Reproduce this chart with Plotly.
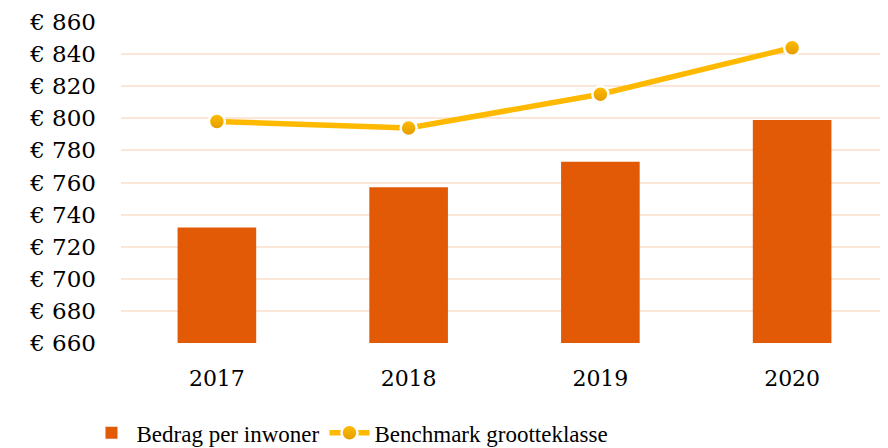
import plotly.graph_objects as go

years = ["2017", "2018", "2019", "2020"]
bedrag = [732, 757, 773, 799]
benchmark = [798, 794, 815, 844]
y_ticks = [660, 680, 700, 720, 740, 760, 780, 800, 820, 840, 860]
y_labels = ["€ " + str(v) for v in y_ticks]

num_font = "DejaVu Serif"
leg_font = "Liberation Serif"

fig = go.Figure()
fig.add_trace(go.Bar(
    x=years, y=bedrag, name="Bedrag per inwoner",
    marker=dict(color="#E25A06", line=dict(width=0)),
    width=0.41,
))
fig.add_trace(go.Scatter(
    x=years, y=benchmark, name="Benchmark grootteklasse",
    mode="lines+markers",
    line=dict(color="#FFB900", width=5.5),
    marker=dict(size=16, color="#FFBE00",
                gradient=dict(type="vertical", color="#E39A00"),
                line=dict(color="white", width=2.5)),
))

# page body adds an 8px offset; figure is sized to fill the 888x448 window
fig.update_layout(
    width=880, height=440,
    margin=dict(l=113, r=0, t=14, b=105, autoexpand=False),
    plot_bgcolor="white", paper_bgcolor="white",
    font=dict(family=num_font, size=22, color="black"),
    showlegend=True,
    legend=dict(orientation="h", x=-0.045, xanchor="left", y=-0.28, yanchor="middle",
                font=dict(family=leg_font, size=23), traceorder="normal",
                itemwidth=40),
)
fig.update_yaxes(
    range=[660, 860], tickmode="array", tickvals=y_ticks, ticktext=y_labels,
    tickfont=dict(family=num_font, size=23, color="black"),
    showgrid=True, gridcolor="#FCE6D8", gridwidth=2, automargin=False,
    zeroline=False, showline=False, ticks="", ticklabelstandoff=24,
)
fig.update_xaxes(
    showgrid=False, showline=False, ticks="", ticklabelstandoff=20, automargin=False,
    tickfont=dict(family=num_font, size=22, color="black"),
)

fig.write_html("out.html")
